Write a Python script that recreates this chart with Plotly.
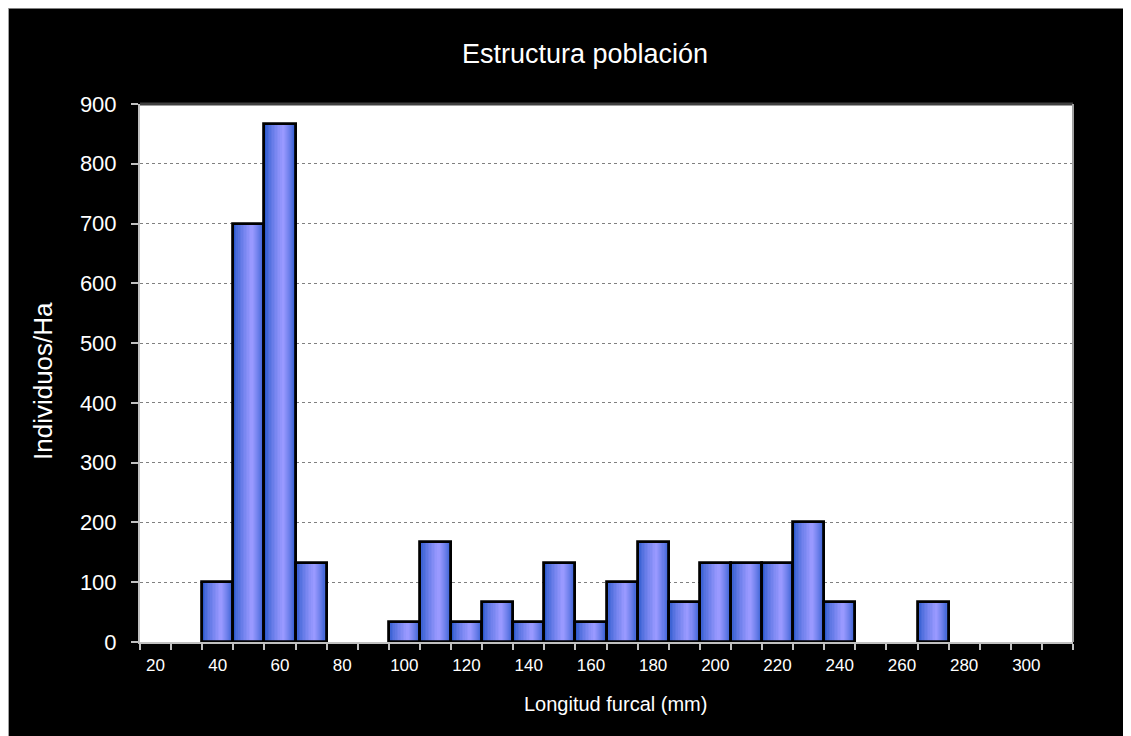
import plotly.graph_objects as go

# longitud furcal (mm), clases de 10 mm
longitud = [20, 30, 40, 50, 60, 70, 80, 90, 100, 110, 120, 130, 140, 150, 160,
            170, 180, 190, 200, 210, 220, 230, 240, 250, 260, 270, 280, 290, 300, 310]
individuos_ha = [0, 0, 100, 700, 867, 133, 0, 0, 33, 167, 33, 67, 33, 133, 33,
                 100, 167, 67, 133, 133, 133, 200, 67, 0, 0, 67, 0, 0, 0, 0]
etiquetas_x = [20, 40, 60, 80, 100, 120, 140, 160, 180, 200, 220, 240, 260, 280, 300]
ticks_y = [0, 100, 200, 300, 400, 500, 600, 700, 800, 900]

# la pagina deja 8 px de margen arriba y a la izquierda
W, H = 1123, 728
L, R, T, B = 132, 58, 96, 94

xs = [x for x, v in zip(longitud, individuos_ha) if v > 0]
ys = [v for v in individuos_ha if v > 0]

fig = go.Figure()

# gradiente horizontal de las barras (estilo Excel) con capas superpuestas
dark = (45, 90, 205)
light = (153, 153, 255)
n_layers = 12
peak = 0.6
for k in range(n_layers):
    t = (k / (n_layers - 1)) ** 0.75
    c = tuple(round(d + (l - d) * t) for d, l in zip(dark, light))
    a = k / n_layers * peak
    b = 1 - k / n_layers * (1 - peak)
    fig.add_trace(go.Bar(
        x=xs, y=ys,
        width=10 * (b - a),
        offset=-5 + 10 * a,
        marker=dict(color='rgb(%d,%d,%d)' % c, line=dict(width=0)),
        hoverinfo='skip',
        showlegend=False,
    ))

# contorno negro
fig.add_trace(go.Bar(
    x=xs, y=ys,
    width=10,
    marker=dict(color='rgba(0,0,0,0)', line=dict(color='black', width=2.8)),
    showlegend=False,
))

fig.update_layout(
    width=W,
    height=H,
    barmode='overlay',
    bargap=0,
    paper_bgcolor='black',
    plot_bgcolor='white',
    margin=dict(l=L, r=R, t=T, b=B, pad=0),
    font=dict(family='Liberation Sans, Arial, sans-serif', color='white'),
    showlegend=False,
)

fig.update_xaxes(
    range=[15, 315],
    tickmode='array',
    tickvals=etiquetas_x,
    ticks='',
    ticklabelstandoff=7,
    tickfont=dict(size=17, color='white'),
    showgrid=False,
    zeroline=False,
    showline=True,
    linecolor='#c0c0c0',
    linewidth=2,
    minor=dict(tickmode='linear', tick0=15, dtick=10, ticks='outside',
               ticklen=6, tickcolor='#c0c0c0', tickwidth=1.5, showgrid=False),
)

fig.update_yaxes(
    range=[0, 900],
    tickmode='array',
    tickvals=ticks_y,
    ticks='outside',
    ticklen=7,
    tickcolor='#c0c0c0',
    tickwidth=1.5,
    ticklabelstandoff=10,
    tickfont=dict(size=22, color='white'),
    showgrid=True,
    gridcolor='#808080',
    griddash='dot',
    gridwidth=1,
    zeroline=False,
    showline=True,
    linecolor='#c0c0c0',
    linewidth=2,
)

# bordes del area de trazado (arriba oscuro, derecha gris)
fig.add_shape(type='line', xref='paper', yref='paper', x0=0, x1=1, y0=1, y1=1,
              line=dict(color='#404040', width=3))
fig.add_shape(type='line', xref='paper', yref='paper', x0=1, x1=1, y0=0, y1=1,
              line=dict(color='#a0a0a0', width=2))

# coordenadas en pixeles de la figura -> papel
px = lambda p: (p - L) / (W - L - R)
py = lambda p: (H - B - p) / (H - T - B)

# linea gris del marco exterior (arriba e izquierda)
fig.add_shape(type='line', xref='paper', yref='paper',
              x0=px(0), x1=px(W), y0=py(0.5), y1=py(0.5),
              line=dict(color='#808080', width=1))
fig.add_shape(type='line', xref='paper', yref='paper',
              x0=px(0.5), x1=px(0.5), y0=py(0), y1=py(H),
              line=dict(color='#a0a0a0', width=1))

fig.add_annotation(text='Estructura población', xref='paper', yref='paper',
                   x=px(577), y=py(46), xanchor='center', yanchor='middle',
                   showarrow=False, font=dict(size=27, color='white'))
fig.add_annotation(text='Individuos/Ha', xref='paper', yref='paper',
                   x=px(35), y=py(373), xanchor='center', yanchor='middle',
                   showarrow=False, textangle=-90,
                   font=dict(size=26, color='white'))
fig.add_annotation(text='Longitud furcal (mm)', xref='paper', yref='paper',
                   x=px(607), y=py(696), xanchor='center', yanchor='middle',
                   showarrow=False, font=dict(size=20, color='white'))

fig.write_html("out.html")
